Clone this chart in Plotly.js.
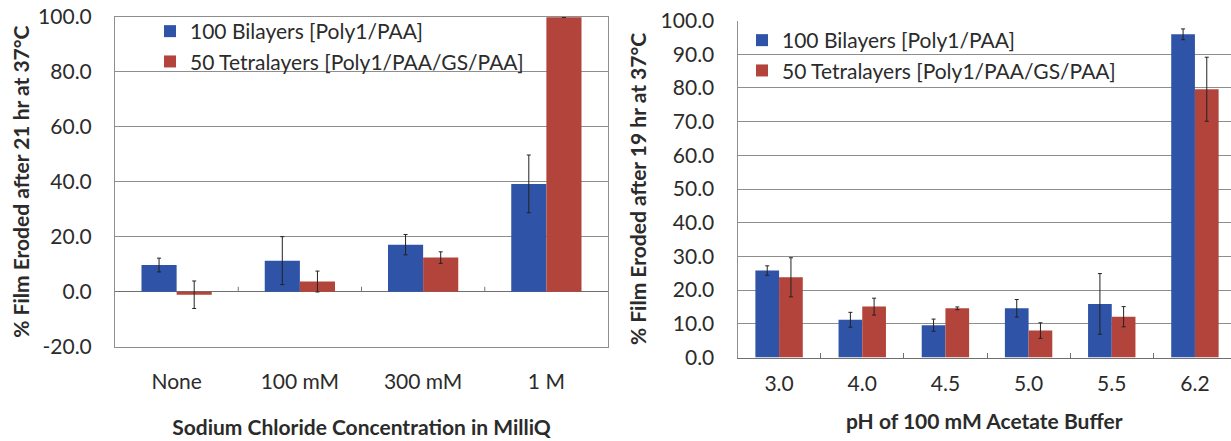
<!DOCTYPE html>
<html>
<head>
<meta charset="utf-8">
<script src="https://cdn.plot.ly/plotly-3.0.1.min.js"></script>
<style>
  html, body { margin: 0; padding: 0; background: #fff; }
  #chart { width: 1231px; height: 441px; }
</style>
</head>
<body>
<div id="chart"></div>
<script>
// ---- Data: Sodium chloride panel ----
const saltCategories = ['None', '100 mM', '300 mM', '1 M'];
const saltBilayer = [9.7, 11.3, 17.1, 39.2];
const saltBilayerErr = [2.5, 8.7, 3.7, 10.5];
const saltTetra = [-1.1, 3.7, 12.4, 99.8];
const saltTetraErr = [5.0, 3.8, 2.1, null];
const saltTickVals = [-20, 0, 20, 40, 60, 80, 100];
const saltTickText = ['-20.0', '0.0', '20.0', '40.0', '60.0', '80.0', '100.0'];

// ---- Data: pH panel ----
const phCategories = ['3.0', '4.0', '4.5', '5.0', '5.5', '6.2'];
const phBilayer = [25.8, 11.2, 9.6, 14.6, 15.9, 95.9];
const phBilayerErr = [1.4, 2.2, 1.8, 2.6, 9.0, 1.6];
const phTetra = [23.8, 15.1, 14.6, 8.0, 12.1, 79.6];
const phTetraErr = [5.8, 2.5, 0.4, 2.3, 3.0, 9.5];

const seriesNames = ['100 Bilayers [Poly1/PAA]', '50 Tetralayers [Poly1/PAA/GS/PAA]'];

const BLUE = '#2F53A6';
const RED = '#B3443B';
const FONT = 'Lato, Carlito, "Liberation Sans", sans-serif';
const TXT = '#2b2b2b';
const GRID = '#8e8e8e';

function errBar(arr) {
  return { type: 'data', array: arr, visible: true, color: '#222', thickness: 1, width: 2 };
}

const traces = [
  { type: 'bar', name: seriesNames[0], x: saltCategories, y: saltBilayer, error_y: errBar(saltBilayerErr),
    marker: { color: BLUE }, xaxis: 'x', yaxis: 'y', legend: 'legend', legendgroup: 'a1' },
  { type: 'bar', name: seriesNames[1], x: saltCategories, y: saltTetra, error_y: errBar(saltTetraErr),
    marker: { color: RED }, xaxis: 'x', yaxis: 'y', legend: 'legend', legendgroup: 'a2' },
  { type: 'bar', name: seriesNames[0], x: phCategories, y: phBilayer, error_y: errBar(phBilayerErr),
    marker: { color: BLUE }, xaxis: 'x2', yaxis: 'y2', legend: 'legend2', legendgroup: 'b1' },
  { type: 'bar', name: seriesNames[1], x: phCategories, y: phTetra, error_y: errBar(phTetraErr),
    marker: { color: RED }, xaxis: 'x2', yaxis: 'y2', legend: 'legend2', legendgroup: 'b2' }
];

const W = 1231, H = 441;
const px = v => v / W;
const py = v => (H - v) / H;

// small category-boundary ticks on the zero line of the left panel
const shapes = [];
for (let i = 0; i < saltCategories.length - 1; i++) {
  shapes.push({ type: 'line', xref: 'x', yref: 'y', x0: i + 0.5, x1: i + 0.5, y0: 0, y1: 1.8,
    line: { color: '#777', width: 1 } });
}

const layout = {
  width: W, height: H,
  margin: { l: 0, r: 0, t: 0, b: 0 },
  paper_bgcolor: '#fff', plot_bgcolor: '#fff',
  font: { family: FONT, size: 21, color: TXT },
  barmode: 'group', bargap: 0.43, bargroupgap: 0,
  showlegend: true,
  xaxis: {
    type: 'category', domain: [px(115), px(608)], anchor: 'y',
    range: [-0.5, saltCategories.length - 0.5],
    showline: true, mirror: true, linecolor: GRID, linewidth: 1,
    ticks: '', showgrid: false, ticklabelstandoff: 16,
    tickfont: { family: FONT, size: 21, color: TXT },
    title: { text: '<b>Sodium Chloride Concentration in MilliQ</b>', font: { family: FONT, size: 21, color: TXT }, standoff: 28 },
    automargin: false
  },
  yaxis: {
    domain: [py(346.7), py(16.7)], anchor: 'x',
    range: [-20, 100], tickmode: 'array', tickvals: saltTickVals, ticktext: saltTickText,
    showline: true, mirror: true, linecolor: GRID, linewidth: 1,
    showgrid: true, gridcolor: GRID, gridwidth: 1,
    zeroline: true, zerolinecolor: '#6f6f6f', zerolinewidth: 1,
    ticks: '', ticklabelstandoff: 18,
    tickfont: { family: FONT, size: 21, color: TXT },
    title: { text: '<b>% Film Eroded after 21 hr at 37°C</b>', font: { family: FONT, size: 21, color: TXT }, standoff: 2 },
    automargin: false
  },
  xaxis2: {
    type: 'category', domain: [px(737.5), 1], anchor: 'y2',
    range: [-0.5, phCategories.length - 0.5 - (1236.5 - 1231) / 83],
    showline: true, linecolor: '#6f6f6f', linewidth: 1,
    ticks: 'inside', tickson: 'boundaries', ticklen: 5, tickcolor: '#6f6f6f',
    showgrid: false, ticklabelstandoff: 7,
    tickfont: { family: FONT, size: 21, color: TXT },
    title: { text: '<b>pH of 100 mM Acetate Buffer</b>', font: { family: FONT, size: 21, color: TXT }, standoff: 20 },
    automargin: false
  },
  yaxis2: {
    domain: [py(357.5), py(20.5)], anchor: 'x2',
    range: [0, 100], dtick: 10, tick0: 0, tickformat: '.1f',
    showline: true, linecolor: GRID, linewidth: 1,
    showgrid: true, gridcolor: GRID, gridwidth: 1,
    zeroline: false,
    ticks: '', ticklabelstandoff: 18,
    tickfont: { family: FONT, size: 21, color: TXT },
    title: { text: '<b>% Film Eroded after 19 hr at 37°C</b>', font: { family: FONT, size: 21, color: TXT }, standoff: 8 },
    automargin: false
  },
  legend: {
    x: px(150), y: py(11), xanchor: 'left', yanchor: 'top',
    bgcolor: 'rgba(0,0,0,0)', borderwidth: 0,
    font: { family: FONT, size: 21, color: TXT },
    tracegroupgap: 0, traceorder: 'normal'
  },
  legend2: {
    x: px(742), y: py(20), xanchor: 'left', yanchor: 'top',
    bgcolor: 'rgba(0,0,0,0)', borderwidth: 0,
    font: { family: FONT, size: 21, color: TXT },
    tracegroupgap: 5, traceorder: 'normal'
  },
  shapes: shapes
};

Plotly.newPlot('chart', traces, layout, { staticPlot: true, displayModeBar: false });
</script>
</body>
</html>
